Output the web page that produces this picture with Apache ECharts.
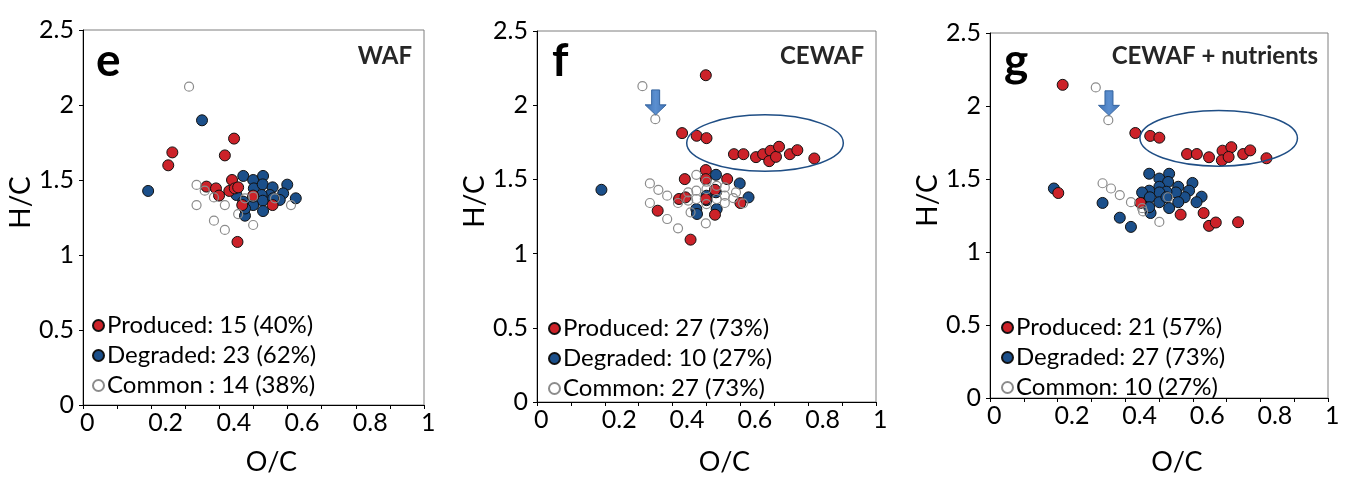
<!DOCTYPE html>
<html>
<head>
<meta charset="utf-8">
<script src="https://cdn.jsdelivr.net/npm/echarts@6/dist/echarts.min.js"></script>
<style>
html,body{margin:0;padding:0;background:#fff;}
#c{width:1352px;height:481px;}
</style>
</head>
<body>
<div id="c"></div>
<script>
// ---------- data ----------
const xTickLabels = ['0', '0.2', '0.4', '0.6', '0.8', '1'];
const yTickLabels = ['0', '0.5', '1', '1.5', '2', '2.5'];
const panelLetters = ['e', 'f', 'g'];
const panelTitles = ['WAF', 'CEWAF', 'CEWAF + nutrients'];

const legendProduced = ['Produced: 15 (40%)', 'Produced: 27 (73%)', 'Produced: 21 (57%)'];
const legendDegraded = ['Degraded: 23 (62%)', 'Degraded: 10 (27%)', 'Degraded: 27 (73%)'];
const legendCommon = ['Common : 14 (38%)', 'Common: 27 (73%)', 'Common: 10 (27%)'];

// Panel e (WAF)
const eProduced = [[0.443,1.776],[0.416,1.664],[0.262,1.684],[0.250,1.598],[0.362,1.456],[0.390,1.444],[0.399,1.396],[0.429,1.427],[0.437,1.500],[0.445,1.444],[0.455,1.451],[0.499,1.396],[0.467,1.333],[0.556,1.333],[0.453,1.087]];
const eDegraded = [[0.191,1.427],[0.349,1.898],[0.470,1.527],[0.499,1.500],[0.528,1.527],[0.501,1.444],[0.527,1.471],[0.556,1.451],[0.599,1.469],[0.587,1.411],[0.624,1.378],[0.577,1.367],[0.548,1.400],[0.524,1.400],[0.527,1.362],[0.499,1.333],[0.528,1.293],[0.475,1.262],[0.450,1.400],[0.499,1.389],[0.470,1.356],[0.558,1.378],[0.475,1.310]];
const eCommon = [[0.311,2.122],[0.333,1.467],[0.357,1.429],[0.384,1.384],[0.333,1.333],[0.416,1.333],[0.384,1.229],[0.416,1.167],[0.499,1.200],[0.455,1.273],[0.475,1.378],[0.499,1.389],[0.563,1.378],[0.610,1.333]];

// Panel f (CEWAF)
const fProduced = [[0.498,2.202],[0.428,1.812],[0.471,1.794],[0.500,1.778],[0.581,1.670],[0.609,1.670],[0.646,1.650],[0.667,1.670],[0.689,1.693],[0.685,1.623],[0.705,1.652],[0.714,1.720],[0.746,1.670],[0.768,1.697],[0.818,1.641],[0.498,1.563],[0.436,1.502],[0.498,1.502],[0.561,1.502],[0.525,1.430],[0.419,1.368],[0.438,1.379],[0.498,1.368],[0.600,1.341],[0.356,1.289],[0.525,1.262],[0.453,1.094]];
const fDegraded = [[0.190,1.430],[0.528,1.531],[0.598,1.473],[0.624,1.379],[0.470,1.300],[0.472,1.267],[0.530,1.300],[0.500,1.390],[0.528,1.413],[0.500,1.360]];
const fCommon = [[0.311,2.128],[0.349,1.906],[0.333,1.473],[0.358,1.430],[0.384,1.390],[0.333,1.341],[0.416,1.341],[0.384,1.233],[0.416,1.170],[0.498,1.204],[0.453,1.278],[0.470,1.531],[0.500,1.484],[0.446,1.413],[0.470,1.424],[0.470,1.368],[0.500,1.435],[0.500,1.334],[0.530,1.457],[0.530,1.368],[0.554,1.446],[0.554,1.390],[0.554,1.341],[0.579,1.374],[0.587,1.413],[0.608,1.339],[0.446,1.357]];

// Panel g (CEWAF + nutrients)
const gProduced = [[0.215,2.145],[0.202,1.404],[0.430,1.815],[0.474,1.795],[0.501,1.783],[0.583,1.671],[0.612,1.671],[0.648,1.649],[0.688,1.694],[0.714,1.718],[0.686,1.628],[0.706,1.651],[0.749,1.671],[0.770,1.696],[0.818,1.642],[0.445,1.336],[0.564,1.256],[0.632,1.267],[0.648,1.179],[0.668,1.202],[0.734,1.204]];
const gDegraded = [[0.189,1.435],[0.333,1.336],[0.384,1.235],[0.417,1.172],[0.471,1.536],[0.501,1.503],[0.530,1.536],[0.527,1.480],[0.501,1.447],[0.557,1.447],[0.599,1.473],[0.589,1.420],[0.626,1.379],[0.576,1.375],[0.550,1.408],[0.522,1.413],[0.501,1.408],[0.471,1.420],[0.450,1.408],[0.473,1.375],[0.501,1.341],[0.530,1.301],[0.557,1.341],[0.611,1.341],[0.475,1.267],[0.471,1.307],[0.522,1.375]];
const gCommon = [[0.313,2.127],[0.350,1.903],[0.333,1.471],[0.358,1.435],[0.384,1.390],[0.417,1.341],[0.453,1.278],[0.501,1.206],[0.527,1.375],[0.450,1.300]];

// ---------- layout / style ----------
const FONT = 'Lato, "Open Sans", sans-serif';
const RED = '#cc2229', BLUE = '#1b4f8a', GREY = '#8c8c8c';
const grids = [
  {left: 83, top: 30, width: 341, height: 375},
  {left: 537, top: 31, width: 339, height: 372},
  {left: 990, top: 33, width: 338, height: 371}
];
const xNameGap = [44, 47, 51];
const yNameGap = [48, 46, 48];
const legendPos = [{left: 92, top: 311}, {left: 548, top: 314}, {left: 1001, top: 313}];

const produced = [eProduced, fProduced, gProduced];
const degraded = [eDegraded, fDegraded, gDegraded];
const common = [eCommon, fCommon, gCommon];

function xFmt(v) {
  const k = Math.round(v * 10);
  if (k % 2 !== 0) return '';
  return xTickLabels[k / 2];
}
function yFmt(v) {
  const k = Math.round(v * 2);
  return yTickLabels[k];
}

const option = {
  animation: false,
  backgroundColor: '#fff',
  grid: grids.map(g => Object.assign({show: true, borderColor: '#7f7f7f', borderWidth: 1, backgroundColor: 'transparent'}, g)),
  xAxis: grids.map((g, i) => ({
    type: 'value', gridIndex: i, min: 0, max: 1, interval: 0.1,
    axisLine: {show: true, onZero: false, lineStyle: {color: '#000', width: 1}},
    axisTick: {show: true, length: 4, lineStyle: {color: '#000'}},
    splitLine: {show: false},
    axisLabel: {formatter: xFmt, align: 'left', margin: 5, fontSize: 25, color: '#000', fontFamily: FONT, padding: [0, 0, 0, -3], showMinLabel: true, showMaxLabel: true},
    name: 'O/C', nameLocation: 'middle', nameGap: xNameGap[i],
    nameTextStyle: {fontSize: 27, color: '#000', fontFamily: FONT, padding: [0, 0, 0, 36]}
  })),
  yAxis: grids.map((g, i) => ({
    type: 'value', gridIndex: i, min: 0, max: 2.5, interval: 0.5,
    axisLine: {show: true, onZero: false, lineStyle: {color: '#000', width: 1}},
    axisTick: {show: true, length: 4, lineStyle: {color: '#000'}},
    splitLine: {show: false},
    axisLabel: {formatter: yFmt, margin: 9, fontSize: 25, color: '#000', fontFamily: FONT, padding: [0, 0, 12, 0], showMinLabel: true, showMaxLabel: true},
    name: 'H/C', nameLocation: 'middle', nameGap: yNameGap[i], nameRotate: 90,
    nameTextStyle: {fontSize: 28, color: '#000', fontFamily: FONT, padding: [0, 0, 0, 30]}
  })),
  legend: grids.map((g, i) => ({
    orient: 'vertical', left: legendPos[i].left, top: legendPos[i].top,
    padding: 0, itemGap: 1, itemWidth: 11, itemHeight: 11,
    data: [legendProduced[i], legendDegraded[i], legendCommon[i]],
    textStyle: {fontSize: 24, color: '#000', fontFamily: FONT, lineHeight: 29, padding: [0, 0, 0, -2]},
    selectedMode: false
  })),
  series: []
};

grids.forEach((g, i) => {
  option.series.push({
    type: 'scatter', name: legendDegraded[i], xAxisIndex: i, yAxisIndex: i,
    data: degraded[i], symbol: 'circle', symbolSize: 11,
    itemStyle: {color: BLUE, borderColor: '#111', borderWidth: 1, opacity: 1}
  });
  option.series.push({
    type: 'scatter', name: legendProduced[i], xAxisIndex: i, yAxisIndex: i,
    data: produced[i], symbol: 'circle', symbolSize: 11,
    itemStyle: {color: RED, borderColor: '#111', borderWidth: 1, opacity: 1}
  });
  option.series.push({
    type: 'scatter', name: legendCommon[i], xAxisIndex: i, yAxisIndex: i,
    data: common[i], symbol: 'circle', symbolSize: 9,
    itemStyle: {color: 'rgba(255,255,255,0)', borderColor: GREY, borderWidth: 1.2, opacity: 1}
  });
});

const chart = echarts.init(document.getElementById('c'), null, {renderer: 'canvas'});
chart.setOption(option);

// ---------- annotations (panel letters, titles, ellipses, arrows) ----------
const letterPos = [[96, 84], [552, 84], [1004, 84]];
const titleRight = [412, 864, 1318];
const graphics = [];
grids.forEach((g, i) => {
  graphics.push({type: 'text', left: letterPos[i][0], top: letterPos[i][1] - 46, z: 100,
    style: {text: panelLetters[i], font: 'bold 46px ' + FONT, fill: '#000'}});
  graphics.push({type: 'text', right: 1352 - titleRight[i], top: 44, z: 100,
    style: {text: panelTitles[i], font: 'bold 24px ' + FONT, fill: '#262626'}});
});

// ellipse annotations (data coords) for panels f and g
const ellipses = [
  {grid: 1, cx: 0.6726, cy: 1.745, rx: 0.231, ry: 0.19},
  {grid: 2, cx: 0.6766, cy: 1.779, rx: 0.233, ry: 0.191}
];
ellipses.forEach(e => {
  const c = chart.convertToPixel({gridIndex: e.grid}, [e.cx, e.cy]);
  const p = chart.convertToPixel({gridIndex: e.grid}, [e.cx + e.rx, e.cy + e.ry]);
  graphics.push({type: 'ellipse', z: 90,
    shape: {cx: c[0], cy: c[1], rx: p[0] - c[0], ry: c[1] - p[1]},
    style: {fill: 'none', stroke: '#1f4e85', lineWidth: 1.5}});
});

// arrows pointing down at the common point
const arrows = [
  {grid: 1, x: 0.35, yTop: 2.103, yTip: 1.935},
  {grid: 2, x: 0.352, yTop: 2.104, yTip: 1.936}
];
arrows.forEach(a => {
  const t = chart.convertToPixel({gridIndex: a.grid}, [a.x, a.yTop]);
  const b = chart.convertToPixel({gridIndex: a.grid}, [a.x, a.yTip]);
  const cx = t[0], y0 = t[1], y1 = b[1];
  const sw = 4, hw = 10.5, hh = 10;
  graphics.push({type: 'polygon', z: 95,
    shape: {points: [[cx - sw, y0], [cx + sw, y0], [cx + sw, y1 - hh], [cx + hw, y1 - hh], [cx, y1], [cx - hw, y1 - hh], [cx - sw, y1 - hh]]},
    style: {fill: {type: 'linear', x: 0, y: 0, x2: 1, y2: 0, colorStops: [{offset: 0, color: '#3f72b5'}, {offset: 0.5, color: '#5b8fd0'}, {offset: 1, color: '#3f72b5'}]}, stroke: '#35649f', lineWidth: 1}});
});

chart.setOption({graphic: graphics});
</script>
</body>
</html>
